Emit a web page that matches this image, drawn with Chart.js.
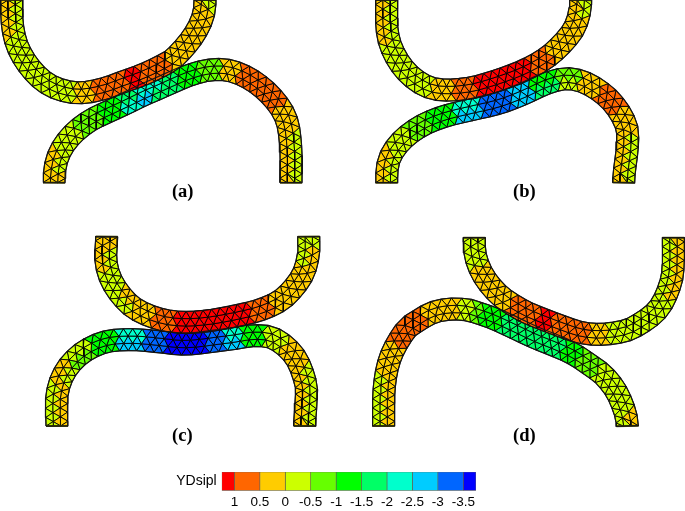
<!DOCTYPE html>
<html>
<head>
<meta charset="utf-8">
<title>YDsipl</title>
<script src="https://cdn.jsdelivr.net/npm/chart.js@4"></script>
<style>
  html, body { margin: 0; padding: 0; background: #fff; }
  #wrap { position: relative; width: 685px; height: 511px; overflow: hidden; }
  #meshChart { position: absolute; left: 0; top: 0; filter: blur(0.4px); }
  #barChart { position: absolute; left: 160px; top: 466px; filter: blur(0.3px); }
</style>
</head>
<body>
<div id="wrap">
  <canvas id="meshChart" width="685" height="511"></canvas>
  <canvas id="barChart" width="330" height="45"></canvas>
</div>
<script>
// colour bar
const legendEdges = [1.25, 1, 0.5, 0, -0.5, -1, -1.5, -2, -2.5, -3, -3.5, -3.75];
const legendColors = ['#ff0000', '#ff6600', '#ffcc00', '#ccff00', '#66ff00', '#00ff00', '#00ff66', '#00ffcc', '#00ccff', '#0066ff', '#0000ff'];
const legendTicks = [1, 0.5, 0, -0.5, -1, -1.5, -2, -2.5, -3, -3.5];

// panel labels and where each panel sits (units are 1/3 px)
const panelNames = ['(a)', '(b)', '(c)', '(d)'];
const panelOrigins = [[0, 0], [1035, 0], [0, 675], [1035, 675]];
const panelLabelAt = [[548, 578], [538, 578], [547, 635], [538, 635]];

// centre lines of the strips, value on each side of the strip at every station
const aUpperLine = [[35,0],[38,80],[55,145],[92,205],[140,250],[195,273],[250,278],[315,265],[365,247],[405,233],[445,217],[495,192],[525,172],[575,115],[607,55],[615,0]];
const aUpperA = [-0.25,-0.25,-0.25,-0.25,-0.25,-0.25,0.25,0.75,0.75,1.25,0.75,0.75,0.25,0.25,0.25,0.25];
const aUpperB = [0.25,0.25,-0.25,-0.25,-0.25,-0.25,0.25,0.75,0.75,1.25,0.75,0.75,0.25,0.25,0.25,-0.25];

const aLowerLine = [[162,548],[172,475],[207,415],[265,365],[340,328],[385,307],[430,285],[470,268],[510,250],[570,225],[630,210],[690,212],[755,240],[815,290],[858,355],[872,440],[873,548]];
const aLowerA = [0.25,0.25,-0.25,-0.75,-1.25,-1.75,-2.25,-2.25,-1.75,-1.25,-0.75,0.25,0.75,0.75,0.25,-0.25,-0.25];
const aLowerB = [0.25,-0.25,-0.25,-0.75,-1.25,-2.25,-2.75,-1.75,-1.75,-1.25,-0.75,0.25,0.75,0.75,0.25,0.25,0.25];

const bUpperLine = [[125,0],[127,95],[147,160],[187,218],[240,257],[295,270],[370,265],[430,250],[490,230],[535,212],[590,183],[640,143],[690,80],[707,0]];
const bUpperA = [-0.25,-0.25,-0.25,-0.25,-0.25,0.25,0.75,1.25,1.25,1.25,0.75,0.25,0.25,0.25];
const bUpperB = [0.25,0.25,-0.25,-0.25,-0.25,0.25,0.75,1.25,1.25,1.25,0.75,0.25,0.25,-0.25];

const bLowerLine = [[125,548],[132,480],[167,425],[225,380],[295,350],[375,330],[460,310],[535,282],[605,250],[670,236],[735,255],[800,305],[843,375],[847,440],[836,548]];
const bLowerA = [0.25,0.25,-0.25,-0.75,-1.25,-2.25,-3.25,-2.75,-1.25,-0.75,0.25,0.75,0.25,-0.25,-0.25];
const bLowerB = [-0.25,-0.25,-0.25,-0.75,-1.25,-2.75,-3.25,-2.75,-1.75,-0.25,0.25,0.75,0.25,0.25,0.25];

const cUpperLine = [[320,35],[318,110],[337,172],[380,230],[425,262],[490,285],[555,292],[620,288],[670,280],[720,270],[785,253],[850,220],[905,155],[925,90],[926,35]];
const cUpperA = [0.25,-0.25,-0.25,0.25,0.25,0.75,1.25,1.25,1.25,1.25,0.75,0.25,0.25,-0.25,-0.25];
const cUpperB = [0.25,0.25,-0.25,-0.25,0.25,0.75,1.25,1.25,1.25,1.25,0.75,0.25,0.25,0.25,-0.25];

const cLowerLine = [[171,603],[171,510],[195,440],[245,385],[315,351],[395,344],[475,350],[540,357],[590,355],[645,348],[700,341],[765,332],[825,342],[885,395],[917,475],[918,530],[914,603]];
const cLowerA = [-0.25,-0.25,0.25,-0.25,-1.25,-2.25,-3.25,-3.75,-3.75,-3.25,-2.25,-1.25,-0.25,0.25,-0.25,-0.25,-0.25];
const cLowerB = [0.25,0.25,-0.25,-0.75,-1.25,-2.75,-3.25,-3.75,-3.75,-3.25,-2.75,-1.25,-0.25,0.25,0.25,0.25,0.25];

const dUpperLine = [[388,38],[392,95],[417,155],[465,212],[525,252],[555,267],[600,285],[645,302],[705,322],[760,328],[820,322],[870,305],[940,252],[978,170],[985,100],[985,38]];
const dUpperA = [-0.25,-0.25,0.25,0.25,0.75,0.75,1.25,0.75,0.75,0.25,-0.25,-0.25,-0.25,-0.25,-0.25,-0.25];
const dUpperB = [-0.25,-0.25,0.25,0.25,0.75,0.75,1.25,0.75,0.75,0.25,-0.25,-0.25,-0.25,0.25,0.25,0.25];

const dLowerLine = [[116,603],[118,485],[137,395],[180,318],[215,290],[265,262],[320,252],[370,255],[390,261],[440,278],[500,305],[570,338],[630,362],[685,387],[735,420],[780,455],[822,515],[847,603]];
const dLowerA = [-0.25,-0.25,0.25,0.75,0.75,0.25,0.25,-0.25,-0.75,-1.25,-1.75,-1.75,-1.75,-1.25,-0.75,-0.25,-0.25,0.25];
const dLowerB = [0.25,0.25,0.25,0.75,0.75,0.25,0.25,-0.25,-0.75,-1.25,-1.75,-1.75,-1.75,-1.25,-0.75,-0.25,-0.25,-0.25];

const strips = [
  { panel: 0, line: aUpperLine, a: aUpperA, b: aUpperB },
  { panel: 0, line: aLowerLine, a: aLowerA, b: aLowerB },
  { panel: 1, line: bUpperLine, a: bUpperA, b: bUpperB },
  { panel: 1, line: bLowerLine, a: bLowerA, b: bLowerB },
  { panel: 2, line: cUpperLine, a: cUpperA, b: cUpperB },
  { panel: 2, line: cLowerLine, a: cLowerA, b: cLowerB },
  { panel: 3, line: dUpperLine, a: dUpperA, b: dUpperB },
  { panel: 3, line: dLowerLine, a: dLowerA, b: dLowerB }
];

const stripWidth = 66;
const cellLength = 27;
const rowCount = 3;

function valueColor(v) {
  for (let i = 0; i < legendColors.length; i++) {
    if (v <= legendEdges[i] && v >= legendEdges[i + 1]) return legendColors[i];
  }
  return legendColors[0];
}

// smooth path through the stations, with arc length at every path point
// all strips are cut square at both ends, so the path leaves and arrives vertically
function tracePath(line) {
  const pts = [];
  const stationS = [];
  const end = line.length - 1;
  let s = 0;
  for (let i = 0; i < end; i++) {
    const p1 = line[i], p2 = line[i + 1];
    const p0 = i > 0 ? line[i - 1] : [p2[0], 2 * p1[1] - p2[1]];
    const p3 = i + 2 <= end ? line[i + 2] : [p1[0], 2 * p2[1] - p1[1]];
    stationS.push(s);
    for (let k = 0; k < 16; k++) {
      const t = k / 16, t2 = t * t, t3 = t2 * t;
      const x = 0.5 * (2 * p1[0] + (p2[0] - p0[0]) * t + (2 * p0[0] - 5 * p1[0] + 4 * p2[0] - p3[0]) * t2 + (3 * p1[0] - p0[0] - 3 * p2[0] + p3[0]) * t3);
      const y = 0.5 * (2 * p1[1] + (p2[1] - p0[1]) * t + (2 * p0[1] - 5 * p1[1] + 4 * p2[1] - p3[1]) * t2 + (3 * p1[1] - p0[1] - 3 * p2[1] + p3[1]) * t3);
      if (pts.length) {
        const q = pts[pts.length - 1];
        s += Math.hypot(x - q.x, y - q.y);
      }
      pts.push({ x, y, s });
    }
  }
  const last = line[end];
  const q = pts[pts.length - 1];
  s += Math.hypot(last[0] - q.x, last[1] - q.y);
  pts.push({ x: last[0], y: last[1], s });
  stationS.push(s);
  return { pts, stationS, length: s };
}

function nodeAt(path, s, offset) {
  const pts = path.pts;
  let i = 0;
  while (i < pts.length - 2 && pts[i + 1].s < s) i++;
  const a = pts[i], b = pts[i + 1];
  const t = (s - a.s) / Math.max(1e-6, b.s - a.s);
  const dx = b.x - a.x, dy = b.y - a.y, d = Math.hypot(dx, dy) || 1;
  return { s, x: a.x + dx * t + (dy / d) * offset, y: a.y + dy * t - (dx / d) * offset };
}

function nearestStation(path, s) {
  let best = 0;
  path.stationS.forEach((v, i) => {
    if (Math.abs(v - s) < Math.abs(path.stationS[best] - s)) best = i;
  });
  return best;
}

function triDataset(tri, color) {
  return {
    data: tri.map(n => ({ x: n.x, y: n.y })).concat({ x: tri[0].x, y: tri[0].y }),
    showLine: true,
    fill: 'shape',
    backgroundColor: color,
    borderColor: 'rgba(0,0,0,0.9)',
    borderWidth: 1,
    pointRadius: 0,
    tension: 0
  };
}

function buildStrip(strip) {
  const org = panelOrigins[strip.panel];
  const path = tracePath(strip.line);
  const n = Math.round(path.length / cellLength);
  const ds = path.length / n;
  const rows = [];
  for (let j = 0; j <= rowCount; j++) {
    const offset = (0.5 - j / rowCount) * stripWidth;
    const params = [0];
    if (j % 2 === 0) {
      for (let i = 1; i < n; i++) params.push(i * ds);
    } else {
      for (let i = 0; i < n; i++) params.push((i + 0.5) * ds);
    }
    params.push(path.length);
    rows.push(params.map(s => {
      const p = nodeAt(path, s, offset);
      return { s, x: p.x + org[0], y: p.y + org[1] };
    }));
  }
  const cells = [];
  for (let j = 0; j < rowCount; j++) {
    const top = rows[j], bot = rows[j + 1];
    let p = 0, q = 0;
    while (p < top.length - 1 || q < bot.length - 1) {
      let tri, topHeavy;
      if (q >= bot.length - 1 || (p < top.length - 1 && top[p + 1].s <= bot[q + 1].s)) {
        tri = [top[p], top[p + 1], bot[q]];
        topHeavy = true;
        p++;
      } else {
        tri = [bot[q], bot[q + 1], top[p]];
        topHeavy = false;
        q++;
      }
      const mid = (tri[0].s + tri[1].s + tri[2].s) / 3;
      const st = nearestStation(path, mid);
      const useA = j === 0 || (j === 1 && topHeavy);
      cells.push(triDataset(tri, valueColor(useA ? strip.a[st] : strip.b[st])));
    }
  }
  // outline and the two cut ends go on top of the cells
  const first = rows[0], lastRow = rows[rowCount];
  const outline = first.concat(lastRow.slice().reverse());
  const edge = {
    data: outline.map(o => ({ x: o.x, y: o.y })).concat({ x: first[0].x, y: first[0].y }),
    showLine: true,
    fill: false,
    borderColor: 'rgba(20,20,20,0.95)',
    borderWidth: 1.2,
    pointRadius: 0,
    tension: 0
  };
  const caps = [[first[0], lastRow[0]], [first[first.length - 1], lastRow[lastRow.length - 1]]].map(c => ({
    data: c.map(o => ({ x: o.x, y: o.y })),
    showLine: true,
    fill: false,
    borderColor: 'rgba(70,70,0,0.85)',
    borderWidth: 2,
    pointRadius: 0
  }));
  return { cells, top: [edge].concat(caps) };
}

const built = strips.map(buildStrip);
const meshDatasets = built.flatMap(b => b.top).concat(built.flatMap(b => b.cells));

const panelLabels = {
  id: 'panelLabels',
  afterDraw(chart) {
    const { ctx, scales } = chart;
    ctx.save();
    ctx.font = 'bold 18.5px "Liberation Serif"';
    ctx.fillStyle = '#000';
    ctx.textAlign = 'center';
    ctx.textBaseline = 'middle';
    panelNames.forEach((name, i) => {
      const x = panelOrigins[i][0] + panelLabelAt[i][0];
      const y = panelOrigins[i][1] + panelLabelAt[i][1];
      ctx.fillText(name, scales.x.getPixelForValue(x), scales.y.getPixelForValue(y));
    });
    ctx.restore();
  }
};

new Chart(document.getElementById('meshChart'), {
  type: 'scatter',
  data: { datasets: meshDatasets },
  plugins: [panelLabels],
  options: {
    responsive: false,
    animation: false,
    events: [],
    layout: { padding: 0 },
    plugins: { legend: { display: false }, tooltip: { enabled: false } },
    scales: {
      x: { type: 'linear', min: 0, max: 2055, display: false },
      y: { type: 'linear', min: 0, max: 1533, reverse: true, display: false }
    }
  }
});

new Chart(document.getElementById('barChart'), {
  type: 'bar',
  data: {
    labels: ['YDsipl'],
    datasets: legendColors.map((c, i) => ({
      data: [[legendEdges[i], legendEdges[i + 1]]],
      backgroundColor: c,
      borderColor: 'rgba(60,60,40,0.75)',
      borderWidth: 0.7,
      borderSkipped: false,
      grouped: false,
      barThickness: 18.7
    }))
  },
  options: {
    indexAxis: 'y',
    responsive: false,
    animation: false,
    events: [],
    layout: { padding: { top: 6, right: 14, left: 0, bottom: 0 } },
    plugins: { legend: { display: false }, tooltip: { enabled: false } },
    scales: {
      x: {
        type: 'linear',
        min: -3.75,
        max: 1.25,
        reverse: true,
        grid: { display: false, drawTicks: false },
        border: { display: false },
        afterBuildTicks(axis) { axis.ticks = legendTicks.map(v => ({ value: v })); },
        afterFit(axis) { axis.height = 20.3; },
        ticks: {
          autoSkip: false,
          maxRotation: 0,
          padding: 3,
          color: '#000',
          font: { family: '"Liberation Sans"', size: 13.5 },
          callback: v => String(v)
        }
      },
      y: {
        grid: { display: false, drawTicks: false },
        border: { display: false },
        afterFit(axis) {
          axis.width = 61.7;
          axis.paddingTop = 0;
          axis.paddingBottom = 0;
        },
        ticks: {
          padding: 5,
          color: '#000',
          font: { family: '"Liberation Sans"', size: 14 }
        }
      }
    }
  }
});
</script>
</body>
</html>
